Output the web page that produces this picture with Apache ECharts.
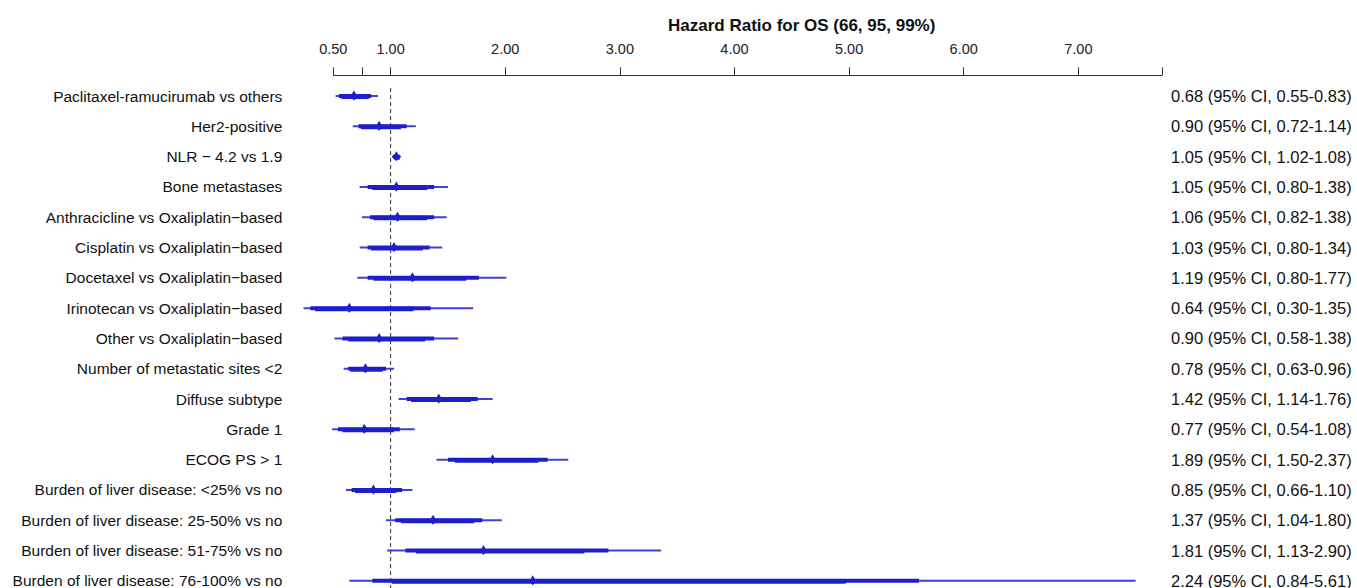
<!DOCTYPE html>
<html>
<head>
<meta charset="utf-8">
<script src="https://cdn.jsdelivr.net/npm/echarts@6/dist/echarts.min.js"></script>
<style>
  html, body { margin: 0; padding: 0; background: #fff; overflow: hidden; }
  #chart { width: 1357px; height: 596px; }
</style>
</head>
<body>
<div id="chart"></div>
<script>
const labels = [
  'Paclitaxel-ramucirumab vs others',
  'Her2-positive',
  'NLR \u2212 4.2 vs 1.9',
  'Bone metastases',
  'Anthracicline vs Oxaliplatin\u2212based',
  'Cisplatin vs Oxaliplatin\u2212based',
  'Docetaxel vs Oxaliplatin\u2212based',
  'Irinotecan vs Oxaliplatin\u2212based',
  'Other vs Oxaliplatin\u2212based',
  'Number of metastatic sites <2',
  'Diffuse subtype',
  'Grade 1',
  'ECOG PS > 1',
  'Burden of liver disease: <25% vs no',
  'Burden of liver disease: 25-50% vs no',
  'Burden of liver disease: 51-75% vs no',
  'Burden of liver disease: 76-100% vs no'
];
const hr   = [0.68, 0.90, 1.05, 1.05, 1.06, 1.03, 1.19, 0.64, 0.90, 0.78, 1.42, 0.77, 1.89, 0.85, 1.37, 1.81, 2.24];
const lo95 = [0.55, 0.72, 1.02, 0.80, 0.82, 0.80, 0.80, 0.30, 0.58, 0.63, 1.14, 0.54, 1.50, 0.66, 1.04, 1.13, 0.84];
const hi95 = [0.83, 1.14, 1.08, 1.38, 1.38, 1.34, 1.77, 1.35, 1.38, 0.96, 1.76, 1.08, 2.37, 1.10, 1.80, 2.90, 5.61];
const lo99 = [0.52, 0.67, 1.01, 0.73, 0.75, 0.73, 0.71, 0.24, 0.51, 0.59, 1.07, 0.49, 1.40, 0.61, 0.96, 0.97, 0.64];
const hi99 = [0.89, 1.22, 1.09, 1.50, 1.49, 1.45, 2.01, 1.72, 1.59, 1.03, 1.89, 1.21, 2.55, 1.19, 1.97, 3.36, 7.50];
const loIn = [0.57, 0.74, 1.03, 0.84, 0.85, 0.83, 0.85, 0.34, 0.63, 0.65, 1.18, 0.58, 1.56, 0.69, 1.09, 1.22, 1.01];
const hiIn = [0.81, 1.09, 1.08, 1.32, 1.32, 1.28, 1.66, 1.20, 1.30, 0.93, 1.70, 1.03, 2.29, 1.05, 1.73, 2.69, 4.97];
const tickValues = [0.5, 0.75, 1, 2, 3, 4, 5, 6, 7, 7.73];
const tickLabelValues = [0.5, 1, 2, 3, 4, 5, 6, 7];
const refValue = 1;

const rightLabels = hr.map((v, i) => v.toFixed(2) + ' (95% CI, ' + lo95[i].toFixed(2) + '-' + hi95[i].toFixed(2) + ')');
const rows = hr.map((v, i) => [v, lo99[i], hi99[i], lo95[i], hi95[i], loIn[i], hiIn[i], i]);

const BLUE = '#1e1ecc';
const FONT = '"Liberation Sans", Arial, sans-serif';

const chart = echarts.init(document.getElementById('chart'), null, { renderer: 'svg' });

function renderCI(params, api) {
  const cat = api.value(7);
  const c = api.coord([api.value(0), cat]);
  const y = c[1];
  const p99a = api.coord([api.value(1), cat])[0];
  const p99b = api.coord([api.value(2), cat])[0];
  const p95a = api.coord([api.value(3), cat])[0];
  const p95b = api.coord([api.value(4), cat])[0];
  const pIna = api.coord([api.value(5), cat])[0];
  const pInb = api.coord([api.value(6), cat])[0];
  return {
    type: 'group',
    children: [
      { type: 'rect', shape: { x: p99a, y: y - 1, width: p99b - p99a, height: 2 }, style: { fill: BLUE, opacity: 0.85 } },
      { type: 'rect', shape: { x: p95a, y: y - 2, width: p95b - p95a, height: 4 }, style: { fill: BLUE } },
      { type: 'rect', shape: { x: pIna, y: y - 1.5, width: pInb - pIna, height: 4.5 }, style: { fill: BLUE } },
      { type: 'polygon', shape: { points: [[c[0], y - 5.5], [c[0] + 3.5, y + 0.5], [c[0], y + 4.5], [c[0] - 3.5, y + 0.5]] }, style: { fill: BLUE } }
    ]
  };
}

function renderRef(params, api) {
  const top = api.coord([refValue, 0])[1] - 8;
  const x = api.coord([refValue, 0])[0];
  return {
    type: 'line',
    shape: { x1: x, y1: top, x2: x, y2: 600 },
    style: { stroke: '#333', lineWidth: 1, lineDash: [4, 3] }
  };
}

chart.setOption({
  animation: false,
  backgroundColor: '#fff',
  title: {
    text: 'Hazard Ratio for OS (66, 95, 99%)',
    left: 663,
    top: 12,
    textStyle: { fontFamily: FONT, fontSize: 17, fontWeight: 'bold', color: '#111' }
  },
  grid: { left: 333.3, right: 195, top: 80.9, bottom: 0, containLabel: false },
  xAxis: {
    type: 'value',
    position: 'top',
    min: 0.5,
    max: 7.73,
    offset: 5.6,
    splitLine: { show: false },
    axisLine: { show: true, lineStyle: { color: '#333', width: 1 } },
    axisTick: { show: true, inside: false, length: 8, customValues: tickValues, lineStyle: { color: '#333', width: 1 } },
    axisLabel: {
      show: true,
      customValues: tickLabelValues,
      formatter: v => Number(v).toFixed(2),
      margin: 19,
      fontFamily: FONT,
      fontSize: 14.5,
      color: '#222'
    }
  },
  yAxis: [
    {
      type: 'category',
      inverse: true,
      data: labels,
      position: 'left',
      axisLine: { show: false },
      axisTick: { show: false },
      splitLine: { show: false },
      axisLabel: { margin: 51, fontFamily: FONT, fontSize: 15.5, color: '#111', align: 'right' }
    },
    {
      type: 'category',
      inverse: true,
      data: rightLabels,
      position: 'right',
      axisLine: { show: false },
      axisTick: { show: false },
      splitLine: { show: false },
      axisLabel: { margin: 9, fontFamily: FONT, fontSize: 16.5, color: '#111', align: 'left' }
    }
  ],
  series: [
    {
      type: 'custom',
      name: 'ref',
      clip: false,
      silent: true,
      xAxisIndex: 0,
      yAxisIndex: 0,
      data: [[refValue, 0]],
      encode: { x: 0, y: 1 },
      renderItem: renderRef,
      z: 1
    },
    {
      type: 'custom',
      name: 'HR',
      clip: false,
      xAxisIndex: 0,
      yAxisIndex: 0,
      data: rows,
      encode: { x: [0, 1, 2, 3, 4, 5, 6], y: 7 },
      renderItem: renderCI,
      z: 2
    }
  ]
});
</script>
</body>
</html>
